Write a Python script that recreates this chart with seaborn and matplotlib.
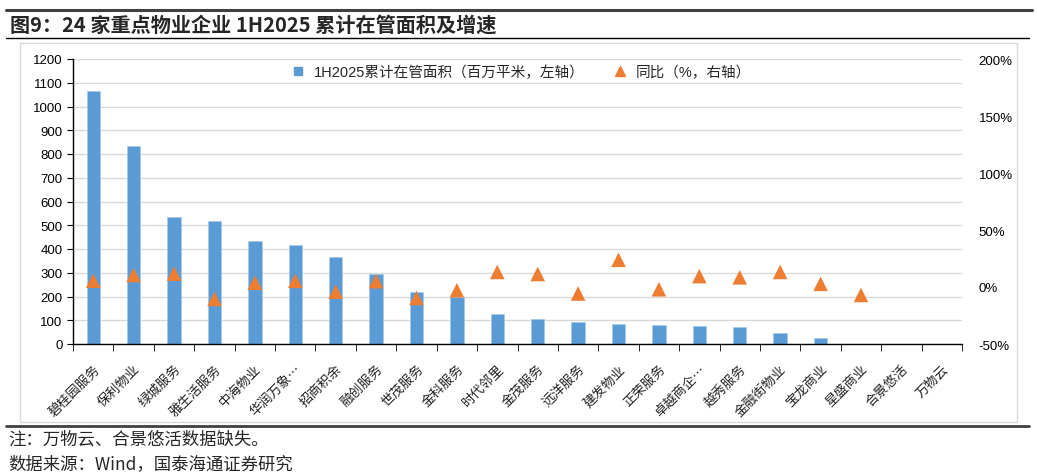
import numpy as np
import pandas as pd
import matplotlib
matplotlib.use("Agg")
import matplotlib.pyplot as plt
from matplotlib.lines import Line2D
from matplotlib.patches import Rectangle
from matplotlib.ticker import MultipleLocator, FuncFormatter
import seaborn as sns

# data
companies = ["碧桂园服务", "保利物业", "绿城服务", "雅生活服务", "中海物业", "华润万象…",
             "招商积余", "融创服务", "世茂服务", "金科服务", "时代邻里", "金茂服务",
             "远洋服务", "建发物业", "正荣服务", "卓越商企…", "越秀服务", "金融街物业",
             "宝龙商业", "星盛商业", "合景悠活", "万物云"]
area_mn_sqm = [1065, 833, 536, 518, 435, 417, 366, 294, 221, 200, 125, 106,
               93, 84, 80, 76, 70, 46, 24, 1, np.nan, np.nan]
yoy_pct = [5.5, 10.5, 11.7, -10.5, 3.8, 5.4, -4.1, 5.1, -9.6, -2.8, 13.2, 11.4,
           -5.7, 23.9, -2.0, 9.5, 8.5, 13.2, 2.8, -7.0, np.nan, np.nan]

blue = "#5B9BD5"
orange = "#ED7D31"

df = pd.DataFrame({"company": companies, "area": area_mn_sqm, "yoy": yoy_pct})
df["pos"] = np.arange(len(df))

sns.set_style("white")
plt.rcParams['font.family'] = ['Liberation Sans', 'Noto Sans CJK SC', 'DejaVu Sans']
plt.rcParams['axes.unicode_minus'] = False

fig = plt.figure(figsize=(10.37, 4.77), dpi=100)
ax = fig.add_axes([73 / 1037, 1 - 345 / 477, (962 - 73) / 1037, 285 / 477])

# bars (left axis)
sns.barplot(data=df, x="pos", y="area", color=blue, width=0.33,
            saturation=1, ax=ax, native_scale=True, edgecolor="#a9c9ea", linewidth=0.6)
ax.set_xlim(-0.5, len(df) - 0.5)
ax.set_ylim(0, 1200)
ax.yaxis.set_major_locator(MultipleLocator(100))
ax.grid(axis="y", color="#d9d9d9", linewidth=1)
ax.set_axisbelow(True)
ax.set_xlabel("")
ax.set_ylabel("")
for s in ["top", "right"]:
    ax.spines[s].set_visible(False)
for s in ["left", "bottom"]:
    ax.spines[s].set_color("black")
    ax.spines[s].set_linewidth(1)
ax.tick_params(axis="y", labelsize=9.5, length=4, direction="out", left=True, colors="black")

ax.set_xticks(df["pos"])
ax.set_xticklabels(df["company"], rotation=45, ha="right", rotation_mode="anchor",
                   fontsize=9.5, family=['Noto Sans CJK SC'], color="#222222")
ax.tick_params(axis="x", which="major", length=0, pad=13)
ax.set_xticks(np.arange(-0.5, len(df), 1), minor=True)
ax.tick_params(axis="x", which="minor", length=5, direction="out", bottom=True, color="black")

# yoy triangles (right axis)
ax2 = ax.twinx()
sns.scatterplot(data=df.dropna(subset=["yoy"]), x="pos", y=df["yoy"].dropna() / 100,
                marker="^", s=110, color=orange, edgecolor="none", ax=ax2, zorder=3)
ax2.set_ylim(-0.5, 2.0)
ax2.yaxis.set_major_locator(MultipleLocator(0.5))
ax2.yaxis.set_major_formatter(FuncFormatter(lambda v, p: f"{v * 100:.0f}%"))
ax2.tick_params(axis="y", labelsize=9.5, length=0, pad=12, colors="black")
ax2.set_ylabel("")
ax2.set_xlabel("")
for s in ax2.spines.values():
    s.set_visible(False)
ax2.grid(False)

handles = [Line2D([], [], marker="s", linestyle="none", color=blue, markersize=5.5),
           Line2D([], [], marker="^", linestyle="none", color=orange, markersize=6.5)]
labels = ["1H2025累计在管面积（百万平米，左轴）", "同比（%，右轴）"]
ax2.legend(handles, labels, loc="upper center", bbox_to_anchor=(0.5, 1.025), ncol=2,
           frameon=False, handletextpad=0.1, columnspacing=1.4,
           prop={"family": ['Liberation Sans', 'Noto Sans CJK SC'], "size": 10.5})

# frame, rules and captions
fig.patches.append(Rectangle((20 / 1037, 1 - 423 / 477), 997 / 1037, 379 / 477,
                             transform=fig.transFigure, fill=False,
                             edgecolor="#d9d9d9", linewidth=1))
fig.add_artist(Line2D([6 / 1037, 1032 / 1037], [1 - 11 / 477] * 2, color="#404040", linewidth=2.2))
fig.add_artist(Line2D([6 / 1037, 1029 / 1037], [1 - 39 / 477] * 2, color="black", linewidth=1))
fig.add_artist(Line2D([6 / 1037, 1029 / 1037], [1 - 427 / 477] * 2, color="#404040", linewidth=2))

fig.text(10 / 1037, 1 - 25 / 477, "图9：24 家重点物业企业 1H2025 累计在管面积及增速",
         fontsize=14.5, fontweight="bold", va="center", ha="left",
         family=['Noto Sans CJK SC', 'DejaVu Sans'])
fig.text(8 / 1037, 1 - 440 / 477, "注：万物云、合景悠活数据缺失。",
         fontsize=12.5, va="center", ha="left", family=['Noto Sans CJK SC', 'DejaVu Sans'])
fig.text(8 / 1037, 1 - 464 / 477, "数据来源：Wind，国泰海通证券研究",
         fontsize=12.5, va="center", ha="left", family=['Noto Sans CJK SC', 'DejaVu Sans'])

fig.savefig("out.png", dpi=100)
